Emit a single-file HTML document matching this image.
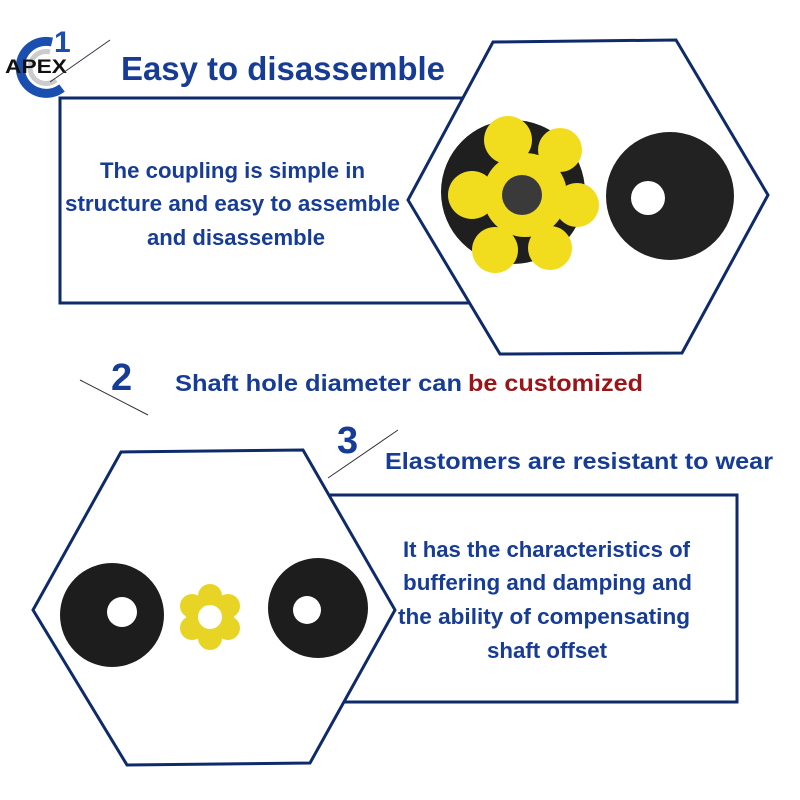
<!DOCTYPE html>
<html><head><meta charset="utf-8"><style>
html,body{margin:0;padding:0;background:#fff;width:800px;height:800px;overflow:hidden}
svg{display:block}
text{font-family:"Liberation Sans",sans-serif;font-weight:bold}
</style></head><body>
<svg width="800" height="800" viewBox="0 0 800 800" xmlns="http://www.w3.org/2000/svg">
<rect width="800" height="800" fill="#fff"/>
<!-- logo -->
<path d="M52 42 A26 26 0 1 0 62 88" fill="none" stroke="#1a4fb0" stroke-width="9"/>
<path d="M50 52 A16 16 0 1 0 56 80" fill="none" stroke="#ccc" stroke-width="5"/>
<text x="5" y="73" font-size="19" fill="#111" textLength="62" lengthAdjust="spacingAndGlyphs">APEX</text>
<text x="54" y="52" font-size="30" fill="#1a4fb0" font-weight="normal">1</text>
<line x1="50" y1="82" x2="110" y2="40" stroke="#334" stroke-width="1"/>
<text x="121" y="80" font-size="33" fill="#173c96" textLength="324" lengthAdjust="spacingAndGlyphs">Easy to disassemble</text>
<!-- rect1 -->
<polyline points="470,98 60,98 60,303 470,303" fill="none" stroke="#0e2a6a" stroke-width="3"/>
<!-- hex1 -->
<polygon points="493,42 676,40 768,195 682,353 500,354 408,200" fill="#fff" stroke="#0e2a6a" stroke-width="3"/>
<g font-size="22" fill="#173c96">
<text x="100" y="178" textLength="265" lengthAdjust="spacingAndGlyphs">The coupling is simple in</text>
<text x="65" y="211" textLength="335" lengthAdjust="spacingAndGlyphs">structure and easy to assemble</text>
<text x="147" y="245" textLength="178" lengthAdjust="spacingAndGlyphs">and disassemble</text>
</g>
<!-- images top -->
<circle cx="513" cy="192" r="72" fill="#1f1f1f"/>
<g fill="#f2dc1e">
<circle cx="525" cy="195" r="42"/>
<circle cx="508" cy="140" r="24"/><circle cx="560" cy="150" r="22"/>
<circle cx="577" cy="205" r="22"/><circle cx="550" cy="248" r="22"/>
<circle cx="495" cy="250" r="23"/><circle cx="472" cy="195" r="24"/>
</g>
<circle cx="522" cy="195" r="20" fill="#3a3a3a"/>
<circle cx="670" cy="196" r="64" fill="#222"/>
<circle cx="648" cy="198" r="17" fill="#fff"/>
<!-- section 2 -->
<line x1="80" y1="380" x2="148" y2="415" stroke="#333" stroke-width="1"/>
<text x="111" y="390" font-size="38" fill="#173c96">2</text>
<text x="175" y="391" font-size="23" fill="#173c96" textLength="287" lengthAdjust="spacingAndGlyphs">Shaft hole diameter can</text>
<text x="468" y="391" font-size="23" fill="#9a1418" textLength="175" lengthAdjust="spacingAndGlyphs">be customized</text>
<!-- section 3 -->
<line x1="328" y1="478" x2="398" y2="430" stroke="#333" stroke-width="1"/>
<text x="337" y="453" font-size="38" fill="#173c96">3</text>
<text x="385" y="469" font-size="23" fill="#173c96" textLength="388" lengthAdjust="spacingAndGlyphs">Elastomers are resistant to wear</text>
<polyline points="330,495 737,495 737,702 340,702" fill="none" stroke="#0e2a6a" stroke-width="3"/>
<polygon points="121,452 303,450 395,610 310,763 127,765 33,610" fill="#fff" stroke="#0e2a6a" stroke-width="3"/>
<g font-size="22" fill="#173c96">
<text x="403" y="557" textLength="287" lengthAdjust="spacingAndGlyphs">It has the characteristics of</text>
<text x="403" y="590" textLength="289" lengthAdjust="spacingAndGlyphs">buffering and damping and</text>
<text x="398" y="624" textLength="292" lengthAdjust="spacingAndGlyphs">the ability of compensating</text>
<text x="487" y="658" textLength="120" lengthAdjust="spacingAndGlyphs">shaft offset</text>
</g>
<circle cx="112" cy="615" r="52" fill="#1d1d1d"/>
<circle cx="122" cy="612" r="15" fill="#fff"/>
<g fill="#e8d424">
<circle cx="210" cy="617" r="24"/>
<circle cx="210" cy="596" r="12"/><circle cx="228" cy="606" r="12"/><circle cx="228" cy="628" r="12"/>
<circle cx="210" cy="638" r="12"/><circle cx="192" cy="628" r="12"/><circle cx="192" cy="606" r="12"/>
</g>
<circle cx="210" cy="617" r="12" fill="#fff"/>
<circle cx="318" cy="608" r="50" fill="#1d1d1d"/>
<circle cx="307" cy="610" r="14" fill="#fff"/>
</svg>
</body></html>
